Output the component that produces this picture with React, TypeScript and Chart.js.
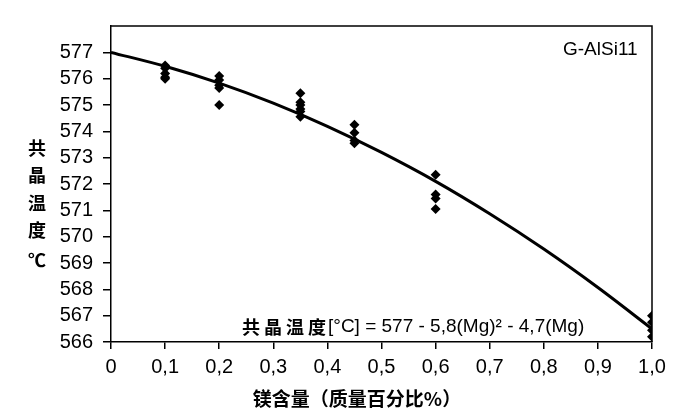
import React, { useEffect, useRef } from 'react';
import { Chart, registerables } from 'chart.js';

Chart.register(...registerables);

// Measured points (Mg content -> eutectic temperature)
const mgContent = [0.1, 0.2, 0.35, 0.45, 0.6, 1.0];
const tempsAt01 = [576.5, 576.4, 576.2, 576.05, 576.0];
const tempsAt02 = [576.1, 575.95, 575.75, 575.65, 575.0];
const tempsAt035 = [575.45, 575.1, 575.0, 574.85, 574.75, 574.55];
const tempsAt045 = [574.25, 573.95, 573.65, 573.55];
const tempsAt06 = [572.35, 571.6, 571.45, 571.05];
const tempsAt10 = [567.0, 566.75, 566.45, 566.2];
const measuredGroups = [tempsAt01, tempsAt02, tempsAt035, tempsAt045, tempsAt06, tempsAt10];

// Fitted curve
const curveX = [0, 0.1, 0.2, 0.3, 0.4, 0.5, 0.6, 0.7, 0.8, 0.9, 1.0];
const curveY = [577.0, 576.47, 575.83, 575.07, 574.19, 573.2, 572.1, 570.87, 569.53, 568.07, 566.5];

// Axis ticks
const xTickValues = [0, 0.1, 0.2, 0.3, 0.4, 0.5, 0.6, 0.7, 0.8, 0.9, 1.0];
const xTickLabels = ['0', '0,1', '0,2', '0,3', '0,4', '0,5', '0,6', '0,7', '0,8', '0,9', '1,0'];
const yTickLabels = ['566', '567', '568', '569', '570', '571', '572', '573', '574', '575', '576', '577'];

// Texts
const yTitleChars = ['共', '晶', '温', '度', '℃'];
const xTitle = '镁含量（质量百分比%）';
const alloyLabel = 'G-AlSi11';
const eqCjk = ['共', '晶', '温', '度'];
const eqRest = '[°C] = 577 - 5,8(Mg)² - 4,7(Mg)';

const LATIN = '"Liberation Sans", Arial, sans-serif';
const CJK = '"Noto Sans CJK SC", sans-serif';

const textPlugin = {
  id: 'texts',
  afterDraw(chart: any) {
    const ctx = chart.ctx;
    const a = chart.chartArea;
    ctx.save();
    // frame top & right
    ctx.strokeStyle = '#000';
    ctx.lineWidth = 1.5;
    ctx.beginPath();
    ctx.moveTo(a.left, a.top);
    ctx.lineTo(a.right, a.top);
    ctx.lineTo(a.right, a.bottom);
    ctx.stroke();

    ctx.fillStyle = '#000';
    ctx.textBaseline = 'middle';
    // alloy label
    ctx.font = `19px ${LATIN}`;
    ctx.textAlign = 'left';
    ctx.fillText(alloyLabel, 563, 50);

    // y title (stacked)
    ctx.textAlign = 'center';
    ctx.font = `bold 18px ${CJK}`;
    const ys = [148, 175, 203, 230, 260];
    yTitleChars.forEach((c, i) => ctx.fillText(c, 37, ys[i]));

    // x title
    ctx.font = `bold 19px ${CJK}`;
    ctx.fillText(xTitle, 357, 399);

    // equation
    ctx.textAlign = 'left';
    ctx.font = `bold 18px ${CJK}`;
    let x = 242;
    eqCjk.forEach((c) => {
      ctx.fillText(c, x, 327);
      x += 22;
    });
    ctx.font = `19px ${LATIN}`;
    ctx.fillText(eqRest, 328, 327);
    ctx.restore();
  },
};

export default function App() {
  const ref = useRef<HTMLCanvasElement>(null);
  useEffect(() => {
    document.body.style.margin = '0';
    const points: { x: number; y: number }[] = [];
    mgContent.forEach((mg, i) => measuredGroups[i].forEach((t) => points.push({ x: mg, y: t })));
    const curve = curveX.map((x, i) => ({ x, y: curveY[i] }));
    const chart = new Chart(ref.current!, {
      type: 'scatter',
      data: {
        datasets: [
          {
            type: 'line',
            data: curve,
            borderColor: '#000',
            borderWidth: 3,
            pointRadius: 0,
            cubicInterpolationMode: 'monotone',
            fill: false,
          } as any,
          {
            data: points,
            backgroundColor: '#000',
            borderColor: '#000',
            pointStyle: 'rectRot',
            pointRadius: 5,
            borderWidth: 0,
          },
        ],
      },
      options: {
        animation: false,
        responsive: true,
        maintainAspectRatio: false,
        layout: { padding: { left: 0, right: 26, top: 26, bottom: 0 } },
        plugins: { legend: { display: false }, tooltip: { enabled: false } },
        scales: {
          x: {
            type: 'linear',
            min: 0,
            max: 1,
            afterBuildTicks: (s: any) => {
              s.ticks = xTickValues.map((v) => ({ value: v }));
            },
            afterFit: (s: any) => {
              s.height = 74;
            },
            grid: { drawOnChartArea: false, color: '#000', tickLength: 7, lineWidth: 1.5 },
            border: { color: '#000', width: 1.5 },
            ticks: {
              color: '#000',
              padding: 6,
              maxRotation: 0,
              autoSkip: false,
              font: { family: LATIN, size: 20 },
              callback: (v: any) => {
                const i = xTickValues.findIndex((t) => Math.abs(t - v) < 1e-6);
                return i >= 0 ? xTickLabels[i] : '';
              },
            },
          },
          y: {
            type: 'linear',
            min: 566,
            max: 578,
            afterBuildTicks: (s: any) => {
              s.ticks = yTickLabels.map((l) => ({ value: Number(l) }));
            },
            afterFit: (s: any) => {
              s.width = 111;
            },
            grid: { drawOnChartArea: false, color: '#000', tickLength: 8, lineWidth: 1.5 },
            border: { color: '#000', width: 1.5 },
            ticks: {
              color: '#000',
              padding: 10,
              autoSkip: false,
              font: { family: LATIN, size: 20 },
              callback: (v: any) => {
                const i = yTickLabels.indexOf(String(v));
                return i >= 0 ? yTickLabels[i] : '';
              },
            },
          },
        },
      },
      plugins: [textPlugin],
    });
    return () => chart.destroy();
  }, []);
  return (
    <div style={{ position: 'relative', width: 678, height: 416 }}>
      <canvas ref={ref} />
    </div>
  );
}
